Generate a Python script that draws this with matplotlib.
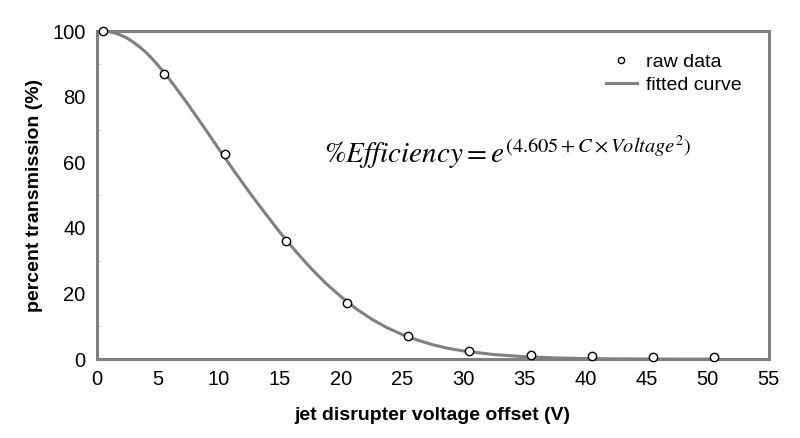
import matplotlib.pyplot as plt
from matplotlib.ticker import MultipleLocator

plt.rcParams['font.family'] = ['Liberation Sans', 'DejaVu Sans']
plt.rcParams['mathtext.fontset'] = 'stix'

# raw measurements
voltage = [0.5, 5.5, 10.5, 15.5, 20.5, 25.5, 30.5, 35.5, 40.5, 45.5, 50.5]
transmission = [100, 87, 62.5, 36, 17, 7, 2.5, 1.4, 1.0, 0.8, 0.8]

# fitted curve
fit_x = [0.5, 1.0, 1.5, 2.0, 2.5, 3.0, 3.5, 4.0, 4.5, 5.0, 5.75, 6.5, 7.5, 8.75,
         10, 11.25, 12.5, 13.75, 15, 16.25, 17.5, 18.75, 20, 21.25, 22.5,
         23.75, 25, 26.25, 27.5, 28.75, 30, 32.5, 35, 37.5, 40, 42.5, 45,
         47.5, 50.5]
fit_y = [100, 99.8, 99.4, 98.7, 97.8, 96.6, 95.2, 93.6, 91.7, 89.6, 86.3, 82.6,
         77.5, 70.8, 64.0, 57.3, 50.8, 44.6, 38.6, 33.0, 27.8, 23.1, 19.0,
         15.3, 12.2, 9.6, 7.5, 5.8, 4.4, 3.3, 2.5, 1.4, 0.75, 0.38, 0.18,
         0.08, 0.04, 0.02, 0.01]

fig = plt.figure(figsize=(8, 4.38), dpi=100)
ax = fig.add_axes([0.121, 0.180, 0.840, 0.749])

grey = '#808080'
ax.plot(fit_x, fit_y, color=grey, lw=2.2, label='fitted curve', zorder=2)
ax.plot(voltage, transmission, 'o', ms=6, mfc='white', mec='black', mew=1.0,
        label='raw data', zorder=3, clip_on=False)

ax.set_xlim(0, 55)
ax.set_ylim(0, 100)
ax.xaxis.set_major_locator(MultipleLocator(5))
ax.yaxis.set_major_locator(MultipleLocator(20))
ax.yaxis.set_minor_locator(MultipleLocator(10))
ax.tick_params(axis='both', which='major', length=0, labelsize=14.5)
ax.tick_params(axis='x', which='major', pad=8)
ax.tick_params(axis='y', which='major', pad=8)
ax.tick_params(axis='y', which='minor', direction='in', length=3, color='#d0d0d0')

for s in ax.spines.values():
    s.set_color(grey)
    s.set_linewidth(2.2)

ax.set_xlabel('jet disrupter voltage offset (V)', fontsize=14, fontweight='bold', labelpad=13)
ax.set_ylabel('percent transmission (%)', fontsize=14, fontweight='bold', labelpad=7)

handles, labels = ax.get_legend_handles_labels()
leg = ax.legend(handles[::-1], labels[::-1], loc='upper right', frameon=False,
                fontsize=14, bbox_to_anchor=(0.985, 0.985), handlelength=1.6,
                handletextpad=0.45, labelspacing=0.25, markerscale=0.75)

ax.text(33.6, 63, r'$\mathrm{\%}\mathit{Efficiency} = e^{(4.605+C\times Voltage^{2})}$',
        fontsize=21, ha='center', va='center')

fig.savefig('out.png', dpi=100)
